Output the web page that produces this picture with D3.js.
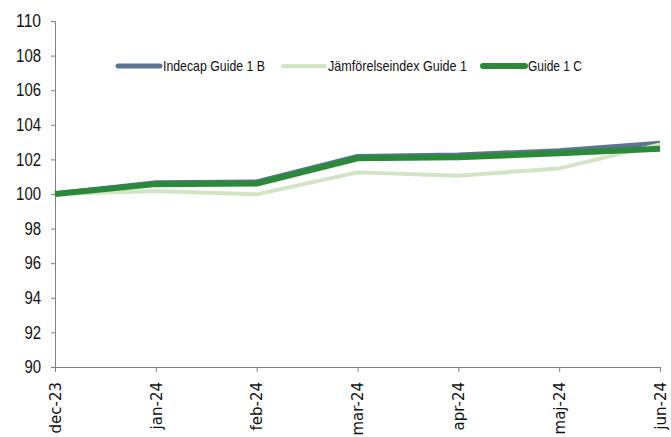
<!DOCTYPE html>
<html>
<head>
<meta charset="utf-8">
<script src="https://cdn.jsdelivr.net/npm/d3@7"></script>
<style>
  body { margin: 0; background: #fff; }
  .ylab { font-family: "Liberation Sans", Arial, sans-serif; font-size: 18px; fill: #111; }
  .xlab { font-family: "DejaVu Sans", sans-serif; font-size: 15px; fill: #111; }
  .leg { font-family: "Liberation Sans", Arial, sans-serif; font-size: 15px; fill: #111; }
</style>
</head>
<body>
<svg id="chart" width="671" height="437"></svg>
<script>
var months = ["dec-23", "jan-24", "feb-24", "mar-24", "apr-24", "maj-24", "jun-24"];
var indecap = [100, 100.65, 100.7, 102.17, 102.25, 102.5, 102.93];
var jamfor = [100, 100.17, 99.98, 101.25, 101.06, 101.48, 102.87];
var guideC = [100, 100.57, 100.6, 102.06, 102.12, 102.35, 102.62];
var yTicks = [90, 92, 94, 96, 98, 100, 102, 104, 106, 108, 110];

var series = [
  { name: "Indecap Guide 1 B", values: indecap, color: "#5B7592", width: 5 },
  { name: "Jämförelseindex Guide 1", values: jamfor, color: "#D1E4C4", width: 4 },
  { name: "Guide 1 C", values: guideC, color: "#2A8A3A", width: 6 }
];

var svg = d3.select("#chart");
var mLeft = 55, mRight = 660, mTop = 21, mBottom = 367;

var x = d3.scalePoint().domain(months).range([mLeft, mRight]);
var y = d3.scaleLinear().domain([90, 110]).range([mBottom, mTop]);

// y axis
var ya = svg.append("g").attr("transform", "translate(" + mLeft + ",0)")
  .call(d3.axisLeft(y).tickValues(yTicks).tickSize(4).tickPadding(10));
ya.select(".domain").attr("stroke", "#808080");
ya.selectAll(".tick line").attr("stroke", "#808080");
ya.selectAll("text").attr("class", "ylab").attr("font-size", null).attr("font-family", null).attr("fill", null)
  .attr("textLength", function(d) { return String(d).length * 8.3; })
  .attr("lengthAdjust", "spacingAndGlyphs");

// x axis
var xa = svg.append("g").attr("transform", "translate(0," + mBottom + ")")
  .call(d3.axisBottom(x).tickSize(5).tickSizeOuter(0));
xa.select(".domain").attr("stroke", "#808080");
xa.selectAll(".tick line").attr("stroke", "#808080");
xa.selectAll("text").attr("class", "xlab").attr("font-size", null).attr("font-family", null).attr("fill", null)
  .attr("text-anchor", "end")
  .attr("transform", "rotate(-90)")
  .attr("x", -15).attr("y", 0).attr("dy", "0.35em");

var line = d3.line().x(function(d, i) { return x(months[i]); }).y(function(d) { return y(d); });

svg.selectAll(".series").data(series).enter().append("path")
  .attr("class", "series")
  .attr("d", function(s) { return line(s.values); })
  .attr("fill", "none")
  .attr("stroke", function(s) { return s.color; })
  .attr("stroke-width", function(s) { return s.width; })
  .attr("stroke-linejoin", "round");

// legend
var legX = [118, 283, 483];
var legW = [102, 139, 54];
var leg = svg.selectAll(".legitem").data(series).enter().append("g")
  .attr("transform", function(s, i) { return "translate(" + legX[i] + ",66)"; });
leg.append("line").attr("x1", 0).attr("x2", 42).attr("y1", 0).attr("y2", 0)
  .attr("stroke", function(s) { return s.color; })
  .attr("stroke-width", function(s) { return s.width; })
  .attr("stroke-linecap", "round");
leg.append("text").attr("class", "leg").attr("x", 45).attr("dy", "0.35em")
  .attr("textLength", function(s, i) { return legW[i]; })
  .attr("lengthAdjust", "spacingAndGlyphs")
  .text(function(s) { return s.name; });
</script>
</body>
</html>
